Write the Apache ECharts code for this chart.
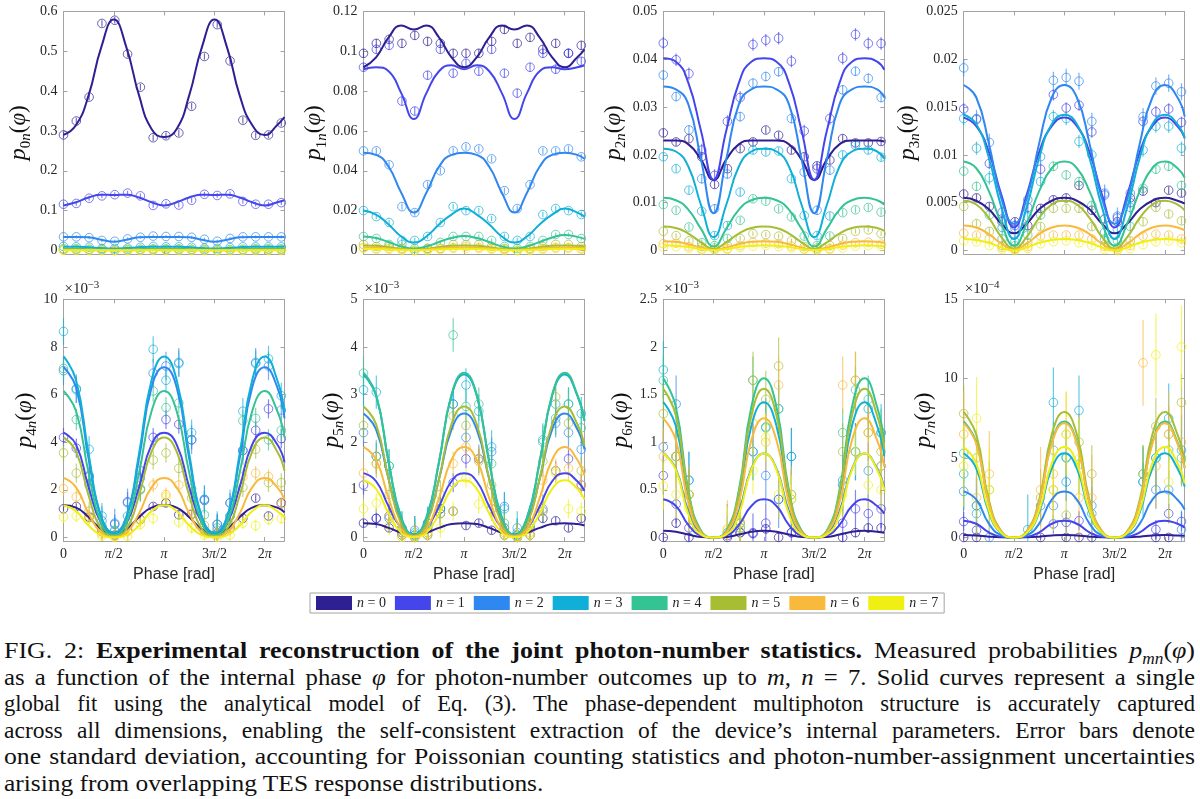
<!DOCTYPE html>
<html>
<head>
<meta charset="utf-8">
<title>Joint photon-number statistics</title>
<script src="https://cdn.jsdelivr.net/npm/echarts@6/dist/echarts.min.js"></script>
<style>
    html, body { margin: 0; padding: 0; background: #fff; }
    #chart { position: absolute; left: 0; top: 0; width: 1200px; height: 625px; }
    #caption { position: absolute; left: 4px; top: 637px; width: 1191px;
        font-family: 'Liberation Serif', 'DejaVu Serif', serif; font-size: 24px; line-height: 26.6px; color: #111; }
    #caption div { width: calc(1191px / var(--s)); transform: scaleX(var(--s)); transform-origin: 0 0;
        text-align: justify; text-align-last: justify; white-space: normal; }
    #caption div.last { text-align-last: left; }
    #caption sub { font-size: 16px; line-height: 0; }
</style>
</head>
<body>
<div id="chart"></div>
<div id="caption">
    <div style="--s:1.08">FIG. 2: <b>Experimental reconstruction of the joint photon-number statistics.</b> Measured probabilities <i>p</i><sub><i>mn</i></sub>(<i>φ</i>)</div>
    <div style="--s:1.03">as a function of the internal phase <i>φ</i> for photon-number outcomes up to <i>m, n</i> = 7. Solid curves represent a single</div>
    <div style="--s:0.94">global fit using the analytical model of Eq. (3). The phase-dependent multiphoton structure is accurately captured</div>
    <div style="--s:0.98">across all dimensions, enabling the self-consistent extraction of the device’s internal parameters. Error bars denote</div>
    <div style="--s:1.07">one standard deviation, accounting for Poissonian counting statistics and photon-number-assignment uncertainties</div>
    <div class="last" style="--s:1.06">arising from overlapping TES response distributions.</div>
</div>
<script>
// colours of the n = 0..7 outcomes (parula-like)
var COLORS = ['#2e1f93', '#4545ec', '#2f87f0', '#10afd7', '#34c392', '#a6bd34', '#f8b93c', '#f0ef14'];
var LEGEND_NAMES = ['n = 0', 'n = 1', 'n = 2', 'n = 3', 'n = 4', 'n = 5', 'n = 6', 'n = 7'];

// measured phases [rad] and the phases where the fitted curves were read
var PHASE = [0, 0.4, 0.8, 1.2, 1.6, 2.0, 2.4, 2.8, 3.2, 3.6, 4.0, 4.4, 4.8, 5.2, 5.6, 6.0, 6.4, 6.8];
var FIT_PHASE = [0, 0.3927, 0.7854, 1.1781, 1.5708, 1.9635, 2.3562, 2.7489, 3.1416, 3.5343, 3.927,
    4.3197, 4.7124, 5.1051, 5.4978, 5.8905, 6.2832, 6.6759, 6.9];
var PHASE_TICKS = [0, Math.PI / 2, Math.PI, 3 * Math.PI / 2, 2 * Math.PI];
var PHASE_LABELS = ['0', '{i|π}/2', '{i|π}', '3{i|π}/2', '2{i|π}'];

// ---- p0n ----
var P0N_TICKS = [0, 0.1, 0.2, 0.3, 0.4, 0.5, 0.6];
var P0N_FIT = [
    [0.290, 0.315, 0.390, 0.510, 0.580, 0.510, 0.390, 0.305, 0.285, 0.305, 0.390, 0.510, 0.580, 0.510, 0.390, 0.315, 0.290, 0.315, 0.335],
    [0.113, 0.121, 0.133, 0.140, 0.139, 0.140, 0.133, 0.121, 0.113, 0.121, 0.133, 0.140, 0.139, 0.140, 0.133, 0.121, 0.113, 0.121, 0.126],
    [0.034, 0.034, 0.033, 0.027, 0.022, 0.027, 0.033, 0.034, 0.034, 0.034, 0.033, 0.027, 0.022, 0.027, 0.033, 0.034, 0.034, 0.034, 0.034],
    [0.009, 0.009, 0.008, 0.006, 0.005, 0.006, 0.008, 0.009, 0.009, 0.009, 0.008, 0.006, 0.005, 0.006, 0.008, 0.009, 0.009, 0.009, 0.009],
    [0.004, 0.004, 0.003, 0.002, 0.002, 0.002, 0.003, 0.004, 0.004, 0.004, 0.003, 0.002, 0.002, 0.002, 0.003, 0.004, 0.004, 0.004, 0.004],
    [0.002, 0.002, 0.0015, 0.001, 0.0008, 0.001, 0.0015, 0.002, 0.002, 0.002, 0.0015, 0.001, 0.0008, 0.001, 0.0015, 0.002, 0.002, 0.002, 0.0018],
    [0.001, 0.001, 0.0008, 0.0005, 0.0004, 0.0005, 0.0008, 0.001, 0.001, 0.001, 0.0008, 0.0005, 0.0004, 0.0005, 0.0008, 0.001, 0.001, 0.001, 0.0009],
    [0.0004, 0.0004, 0.0003, 0.0002, 0.0001, 0.0002, 0.0003, 0.0004, 0.0004, 0.0004, 0.0003, 0.0002, 0.0001, 0.0002, 0.0003, 0.0004, 0.0004, 0.0004, 0.0004]
];
var P0N_DATA = [
    [0.290, 0.325, 0.385, 0.570, 0.578, 0.493, 0.410, 0.283, 0.288, 0.295, 0.362, 0.487, 0.567, 0.476, 0.327, 0.289, 0.290, 0.320],
    [0.116, 0.118, 0.131, 0.137, 0.140, 0.144, 0.137, 0.113, 0.117, 0.114, 0.126, 0.141, 0.138, 0.142, 0.123, 0.116, 0.116, 0.120],
    [0.034, 0.034, 0.032, 0.025, 0.023, 0.029, 0.033, 0.036, 0.035, 0.035, 0.033, 0.028, 0.023, 0.030, 0.034, 0.034, 0.034, 0.034],
    [0.010, 0.009, 0.008, 0.005, 0.005, 0.006, 0.008, 0.010, 0.009, 0.009, 0.008, 0.006, 0.005, 0.007, 0.009, 0.009, 0.009, 0.009],
    [0.004, 0.004, 0.003, 0.002, 0.001, 0.002, 0.003, 0.004, 0.004, 0.004, 0.003, 0.002, 0.001, 0.002, 0.003, 0.004, 0.004, 0.004],
    [0.002, 0.002, 0.001, 0.001, 0.000, 0.001, 0.001, 0.002, 0.002, 0.002, 0.001, 0.001, 0.000, 0.001, 0.001, 0.002, 0.002, 0.002],
    [0.001, 0.001, 0.001, 0.000, 0.000, 0.000, 0.001, 0.001, 0.001, 0.001, 0.001, 0.000, 0.000, 0.000, 0.001, 0.001, 0.001, 0.001],
    [0.0004, 0.0003, 0.0002, 0.0001, 0.0000, 0.0001, 0.0002, 0.0004, 0.0004, 0.0003, 0.0002, 0.0001, 0.0000, 0.0001, 0.0002, 0.0004, 0.0004, 0.0003]
];
var P0N_ERR = [0.008, 0.006, 0.004, 0.004, 0.003, 0.003, 0.003, 0.003];

// ---- p1n ----
var P1N_TICKS = [0, 0.02, 0.04, 0.06, 0.08, 0.1, 0.12];
var P1N_FIT = [
    [0.092, 0.097, 0.107, 0.113, 0.111, 0.113, 0.107, 0.097, 0.092, 0.097, 0.107, 0.113, 0.111, 0.113, 0.107, 0.097, 0.092, 0.097, 0.101],
    [0.091, 0.092, 0.090, 0.079, 0.066, 0.079, 0.090, 0.093, 0.091, 0.093, 0.090, 0.079, 0.066, 0.079, 0.090, 0.092, 0.091, 0.092, 0.093],
    [0.049, 0.048, 0.042, 0.029, 0.019, 0.029, 0.042, 0.048, 0.049, 0.048, 0.042, 0.029, 0.019, 0.029, 0.042, 0.048, 0.049, 0.048, 0.046],
    [0.020, 0.018, 0.013, 0.007, 0.004, 0.007, 0.013, 0.018, 0.021, 0.018, 0.013, 0.007, 0.004, 0.007, 0.013, 0.018, 0.021, 0.019, 0.017],
    [0.0070, 0.0062, 0.0042, 0.0020, 0.0010, 0.0020, 0.0042, 0.0062, 0.0072, 0.0062, 0.0042, 0.0020, 0.0010, 0.0020, 0.0042, 0.0065, 0.0078, 0.0068, 0.0058],
    [0.0025, 0.0023, 0.0016, 0.0008, 0.0003, 0.0008, 0.0016, 0.0023, 0.0025, 0.0023, 0.0016, 0.0008, 0.0003, 0.0008, 0.0016, 0.0023, 0.0025, 0.0023, 0.0020],
    [0.0015, 0.0014, 0.0010, 0.0005, 0.0002, 0.0005, 0.0010, 0.0014, 0.0015, 0.0014, 0.0010, 0.0005, 0.0002, 0.0005, 0.0010, 0.0014, 0.0015, 0.0014, 0.0012],
    [0.0008, 0.0007, 0.0005, 0.0002, 0.0001, 0.0002, 0.0005, 0.0007, 0.0008, 0.0007, 0.0005, 0.0002, 0.0001, 0.0002, 0.0005, 0.0007, 0.0008, 0.0007, 0.0006]
];
var P1N_DATA = [
    [0.099, 0.104, 0.106, 0.104, 0.108, 0.105, 0.104, 0.099, 0.099, 0.099, 0.105, 0.111, 0.104, 0.107, 0.101, 0.104, 0.099, 0.103],
    [0.092, 0.101, 0.103, 0.075, 0.070, 0.088, 0.101, 0.089, 0.094, 0.090, 0.101, 0.089, 0.079, 0.092, 0.099, 0.091, 0.099, 0.095],
    [0.050, 0.050, 0.043, 0.022, 0.019, 0.033, 0.040, 0.050, 0.052, 0.051, 0.046, 0.030, 0.021, 0.033, 0.050, 0.050, 0.051, 0.047],
    [0.020, 0.017, 0.014, 0.005, 0.005, 0.007, 0.014, 0.022, 0.020, 0.020, 0.016, 0.007, 0.005, 0.007, 0.018, 0.021, 0.020, 0.018],
    [0.007, 0.006, 0.003, 0.003, 0.001, 0.001, 0.004, 0.007, 0.007, 0.007, 0.005, 0.002, 0.001, 0.002, 0.005, 0.008, 0.008, 0.006],
    [0.003, 0.002, 0.002, 0.001, 0.000, 0.001, 0.001, 0.003, 0.003, 0.003, 0.002, 0.001, 0.000, 0.001, 0.002, 0.003, 0.003, 0.002],
    [0.0015, 0.001, 0.001, 0.0005, 0.0000, 0.0005, 0.001, 0.0015, 0.002, 0.0015, 0.001, 0.0005, 0.0000, 0.0005, 0.001, 0.0015, 0.0015, 0.001],
    [0.001, 0.0005, 0.0005, 0.0000, 0.0000, 0.0000, 0.0005, 0.001, 0.001, 0.001, 0.0005, 0.0000, 0.0000, 0.0000, 0.0005, 0.001, 0.001, 0.0005]
];
var P1N_ERR = [0.0022, 0.0022, 0.0016, 0.0014, 0.0010, 0.0008, 0.0006, 0.0005];

// ---- p2n ----
var P2N_TICKS = [0, 0.01, 0.02, 0.03, 0.04, 0.05];
var P2N_FIT = [
    [0.0230, 0.0230, 0.0222, 0.0190, 0.0147, 0.0190, 0.0222, 0.0230, 0.0230, 0.0230, 0.0222, 0.0190, 0.0147, 0.0190, 0.0222, 0.0230, 0.0230, 0.0230, 0.0228],
    [0.0402, 0.0395, 0.0350, 0.0250, 0.0148, 0.0250, 0.0350, 0.0395, 0.0402, 0.0395, 0.0350, 0.0250, 0.0148, 0.0250, 0.0350, 0.0395, 0.0402, 0.0395, 0.0378],
    [0.0343, 0.0337, 0.0305, 0.0190, 0.0078, 0.0190, 0.0305, 0.0337, 0.0343, 0.0337, 0.0305, 0.0190, 0.0078, 0.0190, 0.0305, 0.0337, 0.0343, 0.0337, 0.0320],
    [0.0213, 0.0207, 0.0175, 0.0095, 0.0028, 0.0095, 0.0175, 0.0207, 0.0213, 0.0207, 0.0175, 0.0095, 0.0028, 0.0095, 0.0175, 0.0207, 0.0213, 0.0207, 0.0192],
    [0.0110, 0.0105, 0.0085, 0.0045, 0.0008, 0.0045, 0.0085, 0.0105, 0.0110, 0.0105, 0.0085, 0.0045, 0.0008, 0.0045, 0.0085, 0.0105, 0.0110, 0.0105, 0.0096],
    [0.0050, 0.0047, 0.0035, 0.0017, 0.0003, 0.0017, 0.0035, 0.0047, 0.0050, 0.0047, 0.0035, 0.0017, 0.0003, 0.0017, 0.0035, 0.0047, 0.0050, 0.0047, 0.0041],
    [0.0019, 0.0018, 0.0013, 0.0006, 0.0001, 0.0006, 0.0013, 0.0018, 0.0019, 0.0018, 0.0013, 0.0006, 0.0001, 0.0006, 0.0013, 0.0018, 0.0019, 0.0018, 0.0016],
    [0.0011, 0.0010, 0.0007, 0.0003, 0.0001, 0.0003, 0.0007, 0.0010, 0.0011, 0.0010, 0.0007, 0.0003, 0.0001, 0.0003, 0.0007, 0.0010, 0.0011, 0.0010, 0.0009]
];
var P2N_DATA = [
    [0.0246, 0.0227, 0.0234, 0.0196, 0.0138, 0.0171, 0.0213, 0.0227, 0.0252, 0.0241, 0.0210, 0.0196, 0.0177, 0.0189, 0.0234, 0.0225, 0.0225, 0.0228],
    [0.0434, 0.0399, 0.0370, 0.0210, 0.0157, 0.0270, 0.0320, 0.0431, 0.0440, 0.0444, 0.0396, 0.0250, 0.0171, 0.0276, 0.0402, 0.0452, 0.0433, 0.0433],
    [0.0367, 0.0322, 0.0252, 0.0150, 0.0087, 0.0160, 0.0280, 0.0350, 0.0364, 0.0374, 0.0276, 0.0164, 0.0084, 0.0168, 0.0336, 0.0375, 0.0360, 0.0320],
    [0.0196, 0.0171, 0.0126, 0.0082, 0.0031, 0.0052, 0.0122, 0.0210, 0.0206, 0.0208, 0.0150, 0.0073, 0.0031, 0.0072, 0.0200, 0.0220, 0.0210, 0.0195],
    [0.0096, 0.0084, 0.0049, 0.0016, 0.0010, 0.0025, 0.0063, 0.0108, 0.0103, 0.0087, 0.0070, 0.0030, 0.0010, 0.0030, 0.0079, 0.0085, 0.0090, 0.0080],
    [0.0040, 0.0031, 0.0020, 0.0008, 0.0005, 0.0010, 0.0025, 0.0035, 0.0033, 0.0030, 0.0020, 0.0008, 0.0005, 0.0010, 0.0025, 0.0040, 0.0043, 0.0035],
    [0.0014, 0.0015, 0.0008, 0.0003, 0.0002, 0.0004, 0.0010, 0.0017, 0.0015, 0.0014, 0.0009, 0.0003, 0.0002, 0.0004, 0.0011, 0.0016, 0.0017, 0.0013],
    [0.0007, 0.0008, 0.0004, 0.0001, 0.0001, 0.0002, 0.0006, 0.0009, 0.0010, 0.0008, 0.0005, 0.0002, 0.0001, 0.0002, 0.0005, 0.0009, 0.0010, 0.0008]
];
var P2N_ERR = [0.0008, 0.0013, 0.0010, 0.0008, 0.0007, 0.0005, 0.0004, 0.0003];

// ---- p3n ----
var P3N_TICKS = [0, 0.005, 0.01, 0.015, 0.02, 0.025];
var P3N_FIT = [
    [0.0055, 0.0052, 0.0043, 0.0028, 0.0018, 0.0028, 0.0043, 0.0052, 0.0055, 0.0052, 0.0043, 0.0028, 0.0018, 0.0028, 0.0043, 0.0052, 0.0055, 0.0052, 0.0049],
    [0.0139, 0.0130, 0.0103, 0.0058, 0.0024, 0.0058, 0.0103, 0.0130, 0.0139, 0.0130, 0.0103, 0.0058, 0.0024, 0.0058, 0.0103, 0.0130, 0.0139, 0.0130, 0.0118],
    [0.0173, 0.0160, 0.0112, 0.0054, 0.0028, 0.0054, 0.0112, 0.0160, 0.0173, 0.0160, 0.0112, 0.0054, 0.0028, 0.0054, 0.0112, 0.0160, 0.0173, 0.0160, 0.0140],
    [0.0142, 0.0132, 0.0097, 0.0045, 0.0012, 0.0045, 0.0097, 0.0132, 0.0142, 0.0132, 0.0097, 0.0045, 0.0012, 0.0045, 0.0097, 0.0132, 0.0142, 0.0132, 0.0117],
    [0.0093, 0.0086, 0.0062, 0.0028, 0.0005, 0.0028, 0.0062, 0.0086, 0.0093, 0.0086, 0.0062, 0.0028, 0.0005, 0.0028, 0.0062, 0.0086, 0.0093, 0.0086, 0.0076],
    [0.0052, 0.0048, 0.0034, 0.0014, 0.0002, 0.0014, 0.0034, 0.0048, 0.0052, 0.0048, 0.0034, 0.0014, 0.0002, 0.0014, 0.0034, 0.0048, 0.0052, 0.0048, 0.0042],
    [0.0026, 0.0024, 0.0017, 0.0007, 0.0001, 0.0007, 0.0017, 0.0024, 0.0026, 0.0024, 0.0017, 0.0007, 0.0001, 0.0007, 0.0017, 0.0024, 0.0026, 0.0024, 0.0021],
    [0.0012, 0.0011, 0.0008, 0.0003, 0.0000, 0.0003, 0.0008, 0.0011, 0.0012, 0.0011, 0.0008, 0.0003, 0.0000, 0.0003, 0.0008, 0.0011, 0.0012, 0.0011, 0.0010]
];
var P3N_DATA = [
    [0.0059, 0.0055, 0.0046, 0.0030, 0.0030, 0.0026, 0.0044, 0.0053, 0.0055, 0.0068, 0.0042, 0.0033, 0.0030, 0.0055, 0.0062, 0.0050, 0.0063, 0.0060],
    [0.0148, 0.0137, 0.0091, 0.0040, 0.0026, 0.0045, 0.0085, 0.0163, 0.0149, 0.0152, 0.0124, 0.0058, 0.0034, 0.0050, 0.0135, 0.0145, 0.0148, 0.0134],
    [0.0191, 0.0138, 0.0113, 0.0033, 0.0023, 0.0053, 0.0098, 0.0178, 0.0181, 0.0177, 0.0135, 0.0060, 0.0036, 0.0060, 0.0140, 0.0172, 0.0175, 0.0166],
    [0.0138, 0.0107, 0.0076, 0.0024, 0.0009, 0.0035, 0.0072, 0.0140, 0.0138, 0.0114, 0.0100, 0.0019, 0.0022, 0.0045, 0.0105, 0.0130, 0.0130, 0.0107],
    [0.0083, 0.0067, 0.0037, 0.0012, 0.0005, 0.0016, 0.0037, 0.0088, 0.0079, 0.0072, 0.0047, 0.0012, 0.0010, 0.0025, 0.0065, 0.0085, 0.0088, 0.0068],
    [0.0046, 0.0028, 0.0020, 0.0005, 0.0002, 0.0008, 0.0025, 0.0044, 0.0044, 0.0044, 0.0025, 0.0006, 0.0003, 0.0010, 0.0030, 0.0045, 0.0038, 0.0031],
    [0.0018, 0.0016, 0.0012, 0.0003, 0.0001, 0.0004, 0.0015, 0.0016, 0.0016, 0.0016, 0.0012, 0.0004, 0.0001, 0.0005, 0.0015, 0.0017, 0.0016, 0.0012],
    [0.0010, 0.0009, 0.0005, 0.0001, 0.0000, 0.0002, 0.0007, 0.0009, 0.0010, 0.0008, 0.0005, 0.0001, 0.0000, 0.0002, 0.0006, 0.0009, 0.0010, 0.0008]
];
var P3N_ERR = [0.0004, 0.0006, 0.0009, 0.0007, 0.0005, 0.0004, 0.0003, 0.0002];

// ---- p4n (x 1e-3) ----
var P4N_TICKS = [0, 2, 4, 6, 8, 10];
var P4N_FIT = [
    [1.35, 1.25, 0.85, 0.35, 0.15, 0.35, 0.85, 1.25, 1.35, 1.25, 0.85, 0.35, 0.15, 0.35, 0.85, 1.25, 1.35, 1.25, 1.05],
    [4.40, 3.90, 2.10, 0.60, 0.15, 0.60, 2.10, 3.90, 4.40, 3.90, 2.10, 0.60, 0.15, 0.60, 2.10, 3.90, 4.40, 3.90, 3.15],
    [7.15, 6.30, 3.30, 0.85, 0.20, 0.85, 3.30, 6.30, 7.15, 6.30, 3.30, 0.85, 0.20, 0.85, 3.30, 6.30, 7.15, 6.30, 5.00],
    [7.60, 6.60, 3.50, 0.85, 0.20, 0.85, 3.50, 6.60, 7.60, 6.60, 3.50, 0.85, 0.20, 0.85, 3.50, 6.60, 7.60, 6.60, 5.25],
    [6.15, 5.30, 2.70, 0.60, 0.10, 0.60, 2.70, 5.30, 6.15, 5.30, 2.70, 0.60, 0.10, 0.60, 2.70, 5.30, 6.15, 5.30, 4.20],
    [4.20, 3.60, 1.75, 0.35, 0.05, 0.35, 1.75, 3.60, 4.20, 3.60, 1.75, 0.35, 0.05, 0.35, 1.75, 3.60, 4.20, 3.60, 2.80],
    [2.50, 2.10, 1.00, 0.20, 0.02, 0.20, 1.00, 2.10, 2.50, 2.10, 1.00, 0.20, 0.02, 0.20, 1.00, 2.10, 2.50, 2.10, 1.60],
    [1.35, 1.10, 0.50, 0.10, 0.00, 0.10, 0.50, 1.10, 1.35, 1.10, 0.50, 0.10, 0.00, 0.10, 0.50, 1.10, 1.35, 1.10, 0.82]
];
var P4N_DATA = [
    [1.20, 1.30, 0.85, 0.25, 0.10, 0.30, 0.75, 1.30, 1.45, 0.95, 0.97, 0.30, 0.15, 0.40, 0.80, 1.65, 0.90, 1.45],
    [4.20, 3.75, 2.55, 0.40, 0.55, 1.50, 2.80, 4.20, 4.95, 4.75, 4.10, 1.55, 0.55, 1.45, 3.65, 4.50, 5.40, 4.15],
    [7.00, 6.25, 2.60, 0.70, 0.60, 1.45, 2.50, 6.90, 7.20, 7.35, 4.10, 1.60, 0.40, 0.90, 3.65, 7.35, 7.20, 5.35],
    [8.65, 6.20, 3.70, 0.90, 0.30, 0.90, 2.05, 7.90, 6.60, 7.30, 4.40, 1.60, 0.55, 1.45, 5.30, 7.30, 7.50, 5.95],
    [7.10, 4.95, 2.20, 0.50, 0.25, 0.60, 2.00, 6.15, 5.45, 5.65, 2.05, 0.95, 0.30, 0.90, 4.90, 5.00, 4.10, 4.50],
    [3.55, 2.70, 1.10, 0.30, 0.10, 0.30, 2.00, 3.25, 3.55, 2.90, 1.65, 0.50, 0.20, 0.50, 2.10, 3.70, 2.30, 2.30],
    [2.05, 1.70, 0.90, 0.15, 0.05, 0.25, 0.75, 2.20, 1.80, 2.20, 1.00, 0.30, 0.10, 0.35, 2.55, 2.70, 2.55, 1.40],
    [0.85, 0.90, 0.80, 0.05, 0.00, 0.05, 0.55, 0.80, 1.70, 0.65, 0.40, 0.10, 0.00, 0.10, 0.60, 0.50, 0.75, 0.80]
];
var P4N_ERR = [0.15, 0.40, 0.60, 0.55, 0.45, 0.40, 0.30, 0.25];

// ---- p5n (x 1e-3) ----
var P5N_TICKS = [0, 1, 2, 3, 4, 5];
var P5N_FIT = [
    [0.30, 0.28, 0.20, 0.10, 0.05, 0.10, 0.20, 0.28, 0.30, 0.28, 0.20, 0.10, 0.05, 0.10, 0.20, 0.28, 0.30, 0.28, 0.25],
    [1.35, 1.18, 0.65, 0.20, 0.05, 0.20, 0.65, 1.18, 1.35, 1.18, 0.65, 0.20, 0.05, 0.20, 0.65, 1.18, 1.35, 1.18, 0.98],
    [2.60, 2.27, 1.22, 0.33, 0.06, 0.33, 1.22, 2.27, 2.60, 2.27, 1.22, 0.33, 0.06, 0.33, 1.22, 2.27, 2.60, 2.27, 1.85],
    [3.42, 2.98, 1.58, 0.42, 0.06, 0.42, 1.58, 2.98, 3.42, 2.98, 1.58, 0.42, 0.06, 0.42, 1.58, 2.98, 3.42, 2.98, 2.45],
    [3.46, 3.00, 1.58, 0.40, 0.05, 0.40, 1.58, 3.00, 3.46, 3.00, 1.58, 0.40, 0.05, 0.40, 1.58, 3.00, 3.46, 3.00, 2.45],
    [2.75, 2.38, 1.22, 0.28, 0.03, 0.28, 1.22, 2.38, 2.75, 2.38, 1.22, 0.28, 0.03, 0.28, 1.22, 2.38, 2.75, 2.38, 1.92],
    [1.90, 1.63, 0.82, 0.18, 0.02, 0.18, 0.82, 1.63, 1.90, 1.63, 0.82, 0.18, 0.02, 0.18, 0.82, 1.63, 1.90, 1.63, 1.30],
    [1.20, 1.02, 0.50, 0.10, 0.01, 0.10, 0.50, 1.02, 1.20, 1.02, 0.50, 0.10, 0.01, 0.10, 0.50, 1.02, 1.20, 1.02, 0.80]
];
var P5N_DATA = [
    [0.30, 0.40, 0.20, 0.05, 0.00, 0.05, 0.60, 0.55, 0.25, 0.30, 0.15, 0.05, 0.00, 0.05, 0.40, 0.35, 0.20, 0.40],
    [1.10, 0.40, 0.45, 0.10, 0.05, 0.20, 0.50, 1.15, 1.65, 1.65, 0.60, 0.20, 0.05, 0.20, 0.55, 1.40, 1.65, 1.10],
    [2.20, 1.70, 0.40, 0.15, 0.15, 0.30, 0.60, 2.80, 2.10, 1.65, 1.80, 0.65, 0.10, 0.25, 0.60, 2.40, 2.20, 1.85],
    [3.10, 3.05, 1.50, 0.20, 0.10, 0.30, 0.60, 2.80, 3.20, 2.65, 1.90, 0.60, 0.20, 0.30, 2.05, 2.80, 2.80, 2.60],
    [3.45, 1.70, 1.50, 0.20, 0.05, 0.20, 0.50, 4.25, 2.75, 2.80, 1.55, 0.30, 0.05, 0.20, 2.00, 2.50, 2.80, 2.30],
    [2.35, 1.55, 0.90, 0.10, 0.02, 0.10, 0.90, 2.55, 2.35, 1.60, 1.10, 0.20, 0.02, 0.20, 1.60, 2.95, 2.40, 1.40],
    [1.35, 1.55, 0.45, 0.05, 0.00, 0.10, 0.50, 1.55, 1.90, 1.65, 0.60, 0.10, 0.00, 0.10, 1.20, 1.40, 1.45, 1.10],
    [0.60, 0.72, 0.25, 0.00, 0.00, 0.05, 0.20, 0.55, 1.25, 0.70, 0.60, 0.05, 0.00, 0.05, 0.55, 1.35, 0.60, 0.55]
];
var P5N_ERR = [0.08, 0.20, 0.30, 0.35, 0.35, 0.30, 0.25, 0.20];

// ---- p6n (x 1e-3) ----
var P6N_TICKS = [0, 0.5, 1, 1.5, 2, 2.5];
var P6N_FIT = [
    [0.07, 0.06, 0.03, 0.005, 0.00, 0.005, 0.03, 0.06, 0.07, 0.06, 0.03, 0.005, 0.00, 0.005, 0.03, 0.06, 0.07, 0.06, 0.05],
    [0.40, 0.33, 0.13, 0.02, 0.00, 0.02, 0.13, 0.33, 0.40, 0.33, 0.13, 0.02, 0.00, 0.02, 0.13, 0.33, 0.40, 0.33, 0.25],
    [0.88, 0.72, 0.27, 0.04, 0.00, 0.04, 0.27, 0.72, 0.88, 0.72, 0.27, 0.04, 0.00, 0.04, 0.27, 0.72, 0.88, 0.72, 0.52],
    [1.42, 1.17, 0.43, 0.06, 0.00, 0.06, 0.43, 1.17, 1.42, 1.17, 0.43, 0.06, 0.00, 0.06, 0.43, 1.17, 1.42, 1.17, 0.85],
    [1.67, 1.37, 0.49, 0.07, 0.00, 0.07, 0.49, 1.37, 1.67, 1.37, 0.49, 0.07, 0.00, 0.07, 0.49, 1.37, 1.67, 1.37, 1.00],
    [1.56, 1.28, 0.46, 0.06, 0.00, 0.06, 0.46, 1.28, 1.56, 1.28, 0.46, 0.06, 0.00, 0.06, 0.46, 1.28, 1.56, 1.28, 0.93],
    [1.25, 1.02, 0.36, 0.05, 0.00, 0.05, 0.36, 1.02, 1.25, 1.02, 0.36, 0.05, 0.00, 0.05, 0.36, 1.02, 1.25, 1.02, 0.74],
    [0.88, 0.71, 0.24, 0.03, 0.00, 0.03, 0.24, 0.71, 0.88, 0.71, 0.24, 0.03, 0.00, 0.03, 0.24, 0.71, 0.88, 0.71, 0.50]
];
var P6N_DATA = [
    [0.00, 0.15, 0.00, null, null, 0.00, 0.05, 0.04, 0.09, 0.00, 0.05, null, null, null, 0.00, 0.05, 0.10, 0.10],
    [0.65, 0.35, 0.10, null, null, 0.02, 0.05, 0.05, 0.15, 0.40, 0.05, null, null, null, 0.15, 0.30, 0.25, 0.30],
    [0.95, 1.40, 0.60, null, null, 0.05, 0.15, 0.90, 0.65, 0.40, 0.85, null, null, null, 0.55, 0.90, 0.70, 0.75],
    [1.76, 0.85, 0.60, null, null, null, 0.15, 0.90, 1.16, 1.35, 0.85, null, null, null, 0.60, 0.90, 1.35, 1.10],
    [1.65, 0.85, 0.45, null, null, null, 0.10, 1.65, 1.15, 1.35, 0.45, null, null, null, 1.10, 1.55, 1.45, 1.10],
    [1.30, 0.85, 0.45, null, null, null, 0.10, 1.65, 1.45, 1.80, 0.40, null, null, null, 0.90, 1.65, 1.10, 0.90],
    [0.85, 0.85, 0.45, null, null, 0.09, 0.15, 1.20, 1.00, 1.60, 0.45, null, null, null, 1.60, 1.65, 1.10, 0.75],
    [0.54, 0.45, 0.30, null, null, 0.07, 0.18, 0.70, 1.05, 0.45, 0.40, null, null, null, 0.45, 0.90, 0.55, 0.50]
];
var P6N_ERR = [0.05, 0.20, 0.30, 0.30, 0.25, 0.30, 0.30, 0.25];

// ---- p7n (x 1e-4) ----
var P7N_TICKS = [0, 5, 10, 15];
var P7N_FIT = [
    [0.15, 0.12, 0.05, 0.01, 0.00, 0.01, 0.05, 0.12, 0.15, 0.12, 0.05, 0.01, 0.00, 0.01, 0.05, 0.12, 0.15, 0.12, 0.10],
    [1.05, 0.86, 0.32, 0.05, 0.00, 0.05, 0.32, 0.86, 1.05, 0.86, 0.32, 0.05, 0.00, 0.05, 0.32, 0.86, 1.05, 0.86, 0.62],
    [2.90, 2.38, 0.87, 0.14, 0.00, 0.14, 0.87, 2.38, 2.90, 2.38, 0.87, 0.14, 0.00, 0.14, 0.87, 2.38, 2.90, 2.38, 1.75],
    [5.30, 4.35, 1.59, 0.25, 0.00, 0.25, 1.59, 4.35, 5.30, 4.35, 1.59, 0.25, 0.00, 0.25, 1.59, 4.35, 5.30, 4.35, 3.20],
    [7.30, 5.99, 2.19, 0.35, 0.00, 0.35, 2.19, 5.99, 7.30, 5.99, 2.19, 0.35, 0.00, 0.35, 2.19, 5.99, 7.30, 5.99, 4.40],
    [7.90, 6.48, 2.37, 0.38, 0.00, 0.38, 2.37, 6.48, 7.90, 6.48, 2.37, 0.38, 0.00, 0.38, 2.37, 6.48, 7.90, 6.48, 4.75],
    [7.20, 5.90, 2.16, 0.34, 0.00, 0.34, 2.16, 5.90, 7.20, 5.90, 2.16, 0.34, 0.00, 0.34, 2.16, 5.90, 7.20, 5.90, 4.35],
    [5.70, 4.67, 1.71, 0.27, 0.00, 0.27, 1.71, 4.67, 5.70, 4.67, 1.71, 0.27, 0.00, 0.27, 1.71, 4.67, 5.70, 4.67, 3.40]
];
var P7N_DATA = [
    [0.00, 0.00, null, null, null, null, 0.00, null, 0.00, 0.00, 0.00, null, null, null, null, 0.00, 0.00, null],
    [1.00, 0.45, null, null, null, null, null, 0.85, 0.95, 1.05, null, null, null, null, null, 0.50, 1.50, 1.00],
    [2.90, 2.00, 0.00, null, null, null, 2.00, 2.00, 3.50, null, 2.00, null, null, null, 3.50, 3.00, 3.00, 0.50],
    [4.00, 1.50, null, null, null, 0.50, null, 8.50, 5.05, 8.00, 1.50, null, null, null, 3.50, 5.00, 7.50, 5.50],
    [5.30, 2.00, null, null, null, null, null, 5.50, 5.00, 4.60, null, null, null, null, 4.00, 5.00, 5.50, 5.00],
    [7.80, 5.00, 3.00, null, null, null, 2.50, 3.00, 1.40, 6.00, 4.00, null, null, null, 4.00, 7.00, 6.50, 8.50],
    [6.50, 2.50, 4.00, null, null, null, 3.00, 4.00, 6.50, 2.50, 2.50, null, null, null, 11.00, 4.50, 6.50, 6.00],
    [4.50, 7.50, 3.00, null, null, null, null, 3.00, 6.50, 4.95, null, null, null, null, null, 11.50, 3.50, 12.00]
];
var P7N_ERR = [0.20, 0.60, 1.20, 2.20, 1.80, 1.80, 2.70, 2.60];

// panel order and where each one sits on the page
var panels = [
    { m: 0, fit: P0N_FIT, data: P0N_DATA, err: P0N_ERR, ticks: P0N_TICKS },
    { m: 1, fit: P1N_FIT, data: P1N_DATA, err: P1N_ERR, ticks: P1N_TICKS },
    { m: 2, fit: P2N_FIT, data: P2N_DATA, err: P2N_ERR, ticks: P2N_TICKS },
    { m: 3, fit: P3N_FIT, data: P3N_DATA, err: P3N_ERR, ticks: P3N_TICKS },
    { m: 4, fit: P4N_FIT, data: P4N_DATA, err: P4N_ERR, ticks: P4N_TICKS, exp: '−3' },
    { m: 5, fit: P5N_FIT, data: P5N_DATA, err: P5N_ERR, ticks: P5N_TICKS, exp: '−3' },
    { m: 6, fit: P6N_FIT, data: P6N_DATA, err: P6N_ERR, ticks: P6N_TICKS, exp: '−3' },
    { m: 7, fit: P7N_FIT, data: P7N_DATA, err: P7N_ERR, ticks: P7N_TICKS, exp: '−4' }
];
var layout = [
    { left: 63.5, top: 11.5, height: 242.5, nameGap: 30 },
    { left: 363.5, top: 11.5, height: 242.5, nameGap: 32 },
    { left: 663.3, top: 11.5, height: 242.5, nameGap: 33 },
    { left: 963.7, top: 11.5, height: 242.5, nameGap: 40 },
    { left: 63.5, top: 299.3, height: 241.7, nameGap: 17 },
    { left: 363.5, top: 299.3, height: 241.7, nameGap: 16 },
    { left: 663.3, top: 299.3, height: 241.7, nameGap: 25 },
    { left: 963.7, top: 299.3, height: 241.7, nameGap: 25 }
];
var PLOT_WIDTH = 221;
var X_MAX = 6.9;
var FRAME = '#a3a3a3';
var SERIF = 'Liberation Serif';

var myChart = echarts.init(document.getElementById('chart'));

var grids = [], xAxes = [], yAxes = [], series = [], graphics = [];

function yName(m) {
    return '{p|p}{s|' + m + '}{si|n}{b|(}{f|φ}{b|)}';
}

function phaseLabel(value) {
    var idx = Math.round(value / (Math.PI / 2));
    return PHASE_LABELS[idx] || '';
}

panels.forEach(function (panel, gi) {
    var lay = layout[gi];
    var yMax = panel.ticks[panel.ticks.length - 1];
    var yMin = -0.015 * yMax;
    var bottomRow = gi >= 4;

    grids.push({ left: lay.left, top: lay.top, width: PLOT_WIDTH, height: lay.height, outerBoundsMode: 'none' });

    // bottom and top x axes (box with inward ticks)
    xAxes.push({
        type: 'value', gridIndex: gi, position: 'bottom', min: 0, max: X_MAX,
        axisLine: { show: true, onZero: false, lineStyle: { color: FRAME, width: 1 } },
        axisTick: { show: true, inside: true, length: 4, customValues: PHASE_TICKS, lineStyle: { color: FRAME } },
        axisLabel: {
            show: bottomRow, customValues: PHASE_TICKS, margin: 6, formatter: phaseLabel,
            fontFamily: SERIF, fontSize: 14, color: '#262626',
            rich: { i: { fontFamily: SERIF, fontStyle: 'italic', fontSize: 14, color: '#262626' } }
        },
        splitLine: { show: false },
        name: bottomRow ? 'Phase [rad]' : '', nameLocation: 'middle', nameGap: 26,
        nameTextStyle: { fontFamily: 'Liberation Sans', fontSize: 16, color: '#262626' }
    });
    xAxes.push({
        type: 'value', gridIndex: gi, position: 'top', min: 0, max: X_MAX,
        axisLine: { show: true, onZero: false, lineStyle: { color: FRAME, width: 1 } },
        axisTick: { show: true, inside: true, length: 4, customValues: PHASE_TICKS, lineStyle: { color: FRAME } },
        axisLabel: { show: false }, splitLine: { show: false }
    });

    // left and right y axes
    yAxes.push({
        type: 'value', gridIndex: gi, position: 'left', min: yMin, max: yMax,
        axisLine: { show: true, onZero: false, lineStyle: { color: FRAME, width: 1 } },
        axisTick: { show: true, inside: true, length: 4, customValues: panel.ticks, lineStyle: { color: FRAME } },
        axisLabel: {
            customValues: panel.ticks, margin: 6, fontFamily: SERIF, fontSize: 14, color: '#262626',
            formatter: function (v) { return String(v); }
        },
        splitLine: { show: false },
        name: yName(panel.m), nameLocation: 'middle', nameRotate: 90, nameGap: lay.nameGap,
        nameTextStyle: {
            rich: {
                p: { fontFamily: SERIF, fontStyle: 'italic', fontSize: 24, lineHeight: 30, verticalAlign: 'middle', color: '#111' },
                s: { fontFamily: SERIF, fontSize: 15, lineHeight: 15, verticalAlign: 'bottom', color: '#111' },
                si: { fontFamily: SERIF, fontStyle: 'italic', fontSize: 15, lineHeight: 15, verticalAlign: 'bottom', color: '#111' },
                b: { fontFamily: SERIF, fontSize: 23, lineHeight: 30, verticalAlign: 'middle', color: '#111' },
                f: { fontFamily: SERIF, fontStyle: 'italic', fontSize: 23, lineHeight: 30, verticalAlign: 'middle', color: '#111' }
            }
        }
    });
    yAxes.push({
        type: 'value', gridIndex: gi, position: 'right', min: yMin, max: yMax,
        axisLine: { show: true, onZero: false, lineStyle: { color: FRAME, width: 1 } },
        axisTick: { show: true, inside: true, length: 4, customValues: panel.ticks, lineStyle: { color: FRAME } },
        axisLabel: { show: false }, splitLine: { show: false }
    });

    // x10^k multiplier above the axis: base and raised exponent
    if (panel.exp) {
        graphics.push({
            type: 'text', x: lay.left + 1, y: lay.top - 3,
            style: { text: '×10', fontSize: 15, fontFamily: SERIF, fill: '#262626', verticalAlign: 'bottom', align: 'left' }
        });
        graphics.push({
            type: 'text', x: lay.left + 24, y: lay.top - 9,
            style: { text: panel.exp, fontSize: 11, fontFamily: SERIF, fill: '#262626', verticalAlign: 'bottom', align: 'left' }
        });
    }

    for (var n = 0; n < 8; n++) {
        (function (n) {
            var color = COLORS[n];
            var rows = [];
            PHASE.forEach(function (x, i) {
                var v = panel.data[n][i];
                if (v !== null) rows.push([x, v, panel.err[n]]);
            });
            // measured points: open circles with vertical error bars
            series.push({
                type: 'custom', name: LEGEND_NAMES[n], xAxisIndex: 2 * gi, yAxisIndex: 2 * gi,
                data: rows, z: 2, silent: true,
                renderItem: function (params, api) {
                    var x = api.value(0), y = api.value(1), e = api.value(2);
                    var c = api.coord([x, y]);
                    var top = api.coord([x, Math.min(y + e, yMax)]);
                    var bot = api.coord([x, Math.max(y - e, yMin)]);
                    return {
                        type: 'group',
                        children: [
                            { type: 'line', shape: { x1: c[0], y1: top[1], x2: c[0], y2: bot[1] },
                              style: { stroke: color, lineWidth: 1.2, opacity: 0.65 } },
                            { type: 'circle', shape: { cx: c[0], cy: c[1], r: 4.3 },
                              style: { fill: 'none', stroke: color, lineWidth: 1, opacity: 0.7 } }
                        ]
                    };
                }
            });
            // fitted model curve
            series.push({
                type: 'line', name: LEGEND_NAMES[n], xAxisIndex: 2 * gi, yAxisIndex: 2 * gi,
                data: FIT_PHASE.map(function (x, i) { return [x, panel.fit[n][i]]; }),
                smooth: true, showSymbol: false, silent: true, z: 3,
                lineStyle: { color: color, width: 2 }, itemStyle: { color: color }
            });
        })(n);
    }
});

var option = {
    animation: false,
    backgroundColor: '#fff',
    grid: grids,
    xAxis: xAxes,
    yAxis: yAxes,
    graphic: graphics,
    legend: {
        left: 310, top: 593, orient: 'horizontal',
        itemWidth: 36, itemHeight: 14, itemGap: 9,
        padding: [3, 6], borderColor: FRAME, borderWidth: 1, selectedMode: false,
        data: LEGEND_NAMES.map(function (nm, n) {
            return { name: nm, icon: 'rect', itemStyle: { color: COLORS[n] } };
        }),
        formatter: function (name) { return '{i|n}' + name.slice(1); },
        textStyle: {
            fontFamily: SERIF, fontSize: 14, color: '#222',
            rich: { i: { fontFamily: SERIF, fontStyle: 'italic', fontSize: 14, color: '#222' } }
        }
    },
    series: series
};
myChart.setOption(option);
</script>
</body>
</html>
